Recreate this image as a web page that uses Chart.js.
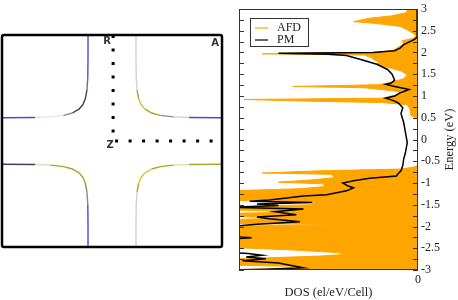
<!DOCTYPE html>
<html>
<head>
<meta charset="utf-8">
<script src="https://cdn.jsdelivr.net/npm/chart.js@4"></script>
<style>
  body { margin: 0; background: #fff; }
  #fermi { position: absolute; left: 0; top: 0; }
  #dos { position: absolute; left: 230px; top: 0; }
</style>
</head>
<body>
<canvas id="fermi" width="230" height="300"></canvas>
<canvas id="dos" width="228" height="300"></canvas>
<script>
// left panel: Fermi surface cut (k-space, 0..1 both ways)
const topLeftCurve = [[0, 0.61], [0.15, 0.611], [0.22, 0.614], [0.28, 0.621], [0.32, 0.632], [0.35, 0.65], [0.368, 0.672], [0.379, 0.70], [0.386, 0.74], [0.39, 0.80], [0.391, 0.9], [0.391, 1]]
const topRightCurve = [[1, 0.61], [0.85, 0.611], [0.78, 0.614], [0.72, 0.621], [0.68, 0.632], [0.65, 0.65], [0.632, 0.672], [0.621, 0.70], [0.614, 0.74], [0.61, 0.80], [0.609, 0.9], [0.609, 1]]
const bottomLeftCurve = [[0, 0.39], [0.15, 0.389], [0.22, 0.386], [0.28, 0.379], [0.32, 0.368], [0.35, 0.35], [0.368, 0.328], [0.379, 0.30], [0.386, 0.26], [0.39, 0.20], [0.391, 0.1], [0.391, 0]]
const bottomRightCurve = [[1, 0.39], [0.85, 0.389], [0.78, 0.386], [0.72, 0.379], [0.68, 0.368], [0.65, 0.35], [0.632, 0.328], [0.621, 0.30], [0.614, 0.26], [0.61, 0.20], [0.609, 0.1], [0.609, 0]]
const kPath = [[0.505, 1], [0.505, 0.5], [0.978, 0.5]]
const kLabels = ['R', 'Z', 'A']

const blue = '#4b4bd6', pale = '#e4e4dc', gray = '#8c8c8c', slate = '#3e3e5e'
const olive = '#a6a62a', yellow = '#c9c93a', paleOlive = '#dedeb0', light = '#d2d2d2'
const topLeftColors = [blue, pale, pale, gray, slate, slate, slate, slate, '#6a6a9a', blue, blue]
const topRightColors = [blue, light, gray, olive, olive, yellow, yellow, olive, light, light, light]
const bottomLeftColors = [slate, paleOlive, olive, olive, olive, olive, olive, '#8a8a70', gray, blue, blue]
const bottomRightColors = [olive, paleOlive, olive, olive, yellow, yellow, yellow, olive, light, light, light]

// right panel: density of states
const afdEnergy = [3.00, 2.92, 2.84, 2.79, 2.71, 2.66, 2.60, 2.52, 2.45, 2.38, 2.32, 2.27, 2.20, 2.12, 2.05, 2.00, 1.97, 1.94, 1.88, 1.84, 1.78, 1.73, 1.65, 1.57, 1.48, 1.40, 1.32, 1.26, 1.22, 1.19, 1.12, 1.06, 1.00, 0.95, 0.92, 0.88, 0.85, 0.80, 0.70, 0.55, 0.48, 0.30, -0.60, -0.64, -0.68, -0.72, -0.77, -0.80, -0.88, -0.93, -0.98, -1.02, -1.08, -1.13, -1.18, -1.40, -1.43, -1.50, -1.55, -1.62, -1.66, -1.70, -1.77, -1.80, -1.84, -1.93, -1.96, -1.99, -2.48, -2.54, -2.60, -2.64, -2.68, -2.75, -2.89, -2.93, -2.97, -3.00]
const afdDos = [0.6, 0.6, 1.5, 2.7, 3.6, 2.2, 1.0, 0.6, 0.3, 0.1, 0.3, 0.9, 0.8, 1.1, 1.4, 2.5, 8.7, 3.0, 2.6, 2.5, 2.2, 2.3, 1.6, 0.9, 0.6, 0.8, 1.4, 2.2, 7.0, 3.0, 1.4, 0.7, 1.5, 2.0, 9.7, 6.0, 2.0, 0.6, 0.45, 0.4, 0.05, 0, 0, 0.3, 1.0, 5.5, 8.7, 4.8, 4.7, 6.0, 7.8, 5.3, 5.2, 6.5, 10.5, 10.5, 5.7, 6.0, 10.5, 10.5, 6.2, 10.5, 10.5, 6.8, 10.5, 10.5, 3.7, 10.5, 10.5, 7.0, 4.5, 4.0, 5.5, 10.5, 10.5, 5.0, 8.0, 10.5]
const pmEnergy = [3.00, 2.35, 2.30, 2.25, 2.18, 2.10, 2.04, 2.00, 1.98, 1.96, 1.93, 1.84, 1.73, 1.61, 1.50, 1.36, 1.30, 1.27, 1.22, 1.15, 1.07, 1.00, 0.95, 0.90, 0.84, 0.73, 0.60, 0.39, 0.16, -0.07, -0.30, -0.45, -0.60, -0.72, -0.78, -0.84, -0.89, -0.95, -1.00, -1.07, -1.11, -1.18, -1.27, -1.30, -1.39, -1.42, -1.45, -1.48, -1.52, -1.56, -1.60, -1.66, -1.73, -1.78, -1.82, -1.89, -1.95, -2.00, -2.22, -2.26, -2.30, -2.58, -2.62, -2.66, -2.70, -2.74, -2.79, -2.84, -2.90, -2.95, -2.98, -3.00]
const pmDos = [0.05, 0.05, 0.2, 0.45, 0.8, 1.0, 1.3, 2.5, 7.8, 5.0, 4.0, 3.2, 2.3, 1.7, 1.45, 1.3, 1.5, 1.8, 1.3, 0.5, 1.0, 1.3, 1.8, 1.4, 1.1, 0.85, 0.95, 0.8, 0.7, 0.6, 0.7, 0.8, 0.85, 0.95, 1.1, 1.2, 2.7, 3.6, 4.2, 3.9, 3.6, 4.0, 5.1, 6.4, 8.3, 9.4, 5.9, 9.0, 7.8, 10.5, 6.4, 8.0, 6.8, 9.0, 8.3, 6.6, 9.0, 10.5, 11, 9.3, 11, 11, 9.5, 8.7, 9.6, 8.5, 9.8, 7.8, 7.0, 6.4, 8.5, 11]
const energyTicks = [-3, -2.5, -2, -1.5, -1, -0.5, 0, 0.5, 1, 1.5, 2, 2.5, 3]

const serif = 'Liberation Serif'
const toPoints = arr => arr.map(([x, y]) => ({ x, y }))
const zip = (energy, dos) => energy.map((y, i) => ({ x: dos[i], y }))

const curve = (pts, colors) => ({
  data: toPoints(pts),
  showLine: true,
  pointRadius: 0,
  borderWidth: 1.4,
  borderColor: colors[0],
  segment: { borderColor: c => colors[c.p0DataIndex] }
})

const fermiDecor = {
  id: 'fermiDecor',
  afterDraw(chart) {
    const { ctx, chartArea: a, scales: { x, y } } = chart
    ctx.save()
    ctx.strokeStyle = '#000'
    ctx.lineWidth = 2.5
    ctx.beginPath()
    ctx.roundRect(a.left, a.top, a.right - a.left, a.bottom - a.top, 2)
    ctx.stroke()
    ctx.fillStyle = '#333'
    ctx.font = 'bold 10px "DejaVu Sans"'
    ctx.textAlign = 'center'
    ctx.textBaseline = 'middle'
    const offsets = [[-6, 6], [-3, 4], [0, 0]]
    const spots = [kPath[0], kPath[1], [1, 1]]
    spots.forEach((p, i) => {
      let px = x.getPixelForValue(p[0]) + offsets[i][0]
      let py = y.getPixelForValue(p[1]) + offsets[i][1]
      if (i === 2) { px -= 7; py += 8 }
      ctx.fillText(kLabels[i], px, py)
    })
    ctx.restore()
  }
}

new Chart(document.getElementById('fermi'), {
  type: 'scatter',
  data: {
    datasets: [
      curve(topLeftCurve, topLeftColors),
      curve(topRightCurve, topRightColors),
      curve(bottomLeftCurve, bottomLeftColors),
      curve(bottomRightCurve, bottomRightColors),
      {
        data: toPoints(kPath),
        showLine: true,
        pointRadius: 0,
        borderColor: '#000',
        borderWidth: 3,
        borderDash: [3, 10.5],
        borderCapStyle: 'butt'
      }
    ]
  },
  options: {
    responsive: false,
    animation: false,
    layout: { padding: { left: 2, top: 35, right: 8, bottom: 53 } },
    plugins: { legend: { display: false }, tooltip: { enabled: false } },
    scales: {
      x: { type: 'linear', min: 0, max: 1, display: false },
      y: { type: 'linear', min: 0, max: 1, display: false }
    }
  },
  plugins: [fermiDecor]
})

const dosDecor = {
  id: 'dosDecor',
  afterDraw(chart) {
    const { ctx, chartArea: a, scales: { y } } = chart
    ctx.save()
    ctx.strokeStyle = '#333'
    ctx.lineWidth = 1
    ctx.strokeRect(a.left + 0.5, a.top + 0.5, a.right - a.left - 1, a.bottom - a.top - 1)
    ctx.beginPath()
    y.ticks.forEach(t => {
      const py = Math.round(y.getPixelForValue(t.value)) + 0.5
      ctx.moveTo(a.left, py); ctx.lineTo(a.left + 5, py)
      ctx.moveTo(a.right - 5, py); ctx.lineTo(a.right, py)
    })
    ctx.stroke()

    // y title, reading bottom to top
    ctx.fillStyle = '#222'
    ctx.font = '12.5px "' + serif + '"'
    ctx.textAlign = 'center'
    ctx.textBaseline = 'middle'
    ctx.translate(a.right + 32, (a.top + a.bottom) / 2)
    ctx.rotate(-Math.PI / 2)
    ctx.fillText('Energy (eV)', 0, 0)
    ctx.restore()

    // legend box
    ctx.save()
    const bx = a.left + 11, by = a.top + 9
    ctx.fillStyle = '#fff'
    ctx.fillRect(bx, by, 58, 28)
    ctx.strokeStyle = '#333'
    ctx.strokeRect(bx + 0.5, by + 0.5, 58, 28)
    ctx.font = '12px "' + serif + '"'
    ctx.textBaseline = 'middle'
    ctx.textAlign = 'left'
    chart.data.datasets.forEach((ds, i) => {
      const ly = by + 10 + i * 12
      ctx.strokeStyle = ds.borderColor
      ctx.lineWidth = 1.2
      ctx.beginPath()
      ctx.moveTo(bx + 5, ly); ctx.lineTo(bx + 18, ly)
      ctx.stroke()
      ctx.fillStyle = '#222'
      ctx.fillText(ds.label, bx + 27, ly)
    })
    ctx.restore()
  }
}

new Chart(document.getElementById('dos'), {
  type: 'line',
  data: {
    datasets: [
      {
        label: 'AFD',
        data: zip(afdEnergy, afdDos),
        borderColor: '#ffa500',
        backgroundColor: '#ffa500',
        borderWidth: 1,
        fill: 'origin',
        pointRadius: 0,
        tension: 0,
        order: 2
      },
      {
        label: 'PM',
        data: zip(pmEnergy, pmDos),
        borderColor: '#000',
        borderWidth: 1.5,
        fill: false,
        pointRadius: 0,
        tension: 0,
        order: 1
      }
    ]
  },
  options: {
    indexAxis: 'y',
    responsive: false,
    animation: false,
    layout: { padding: { left: 9, top: 6, right: 0, bottom: 0 } },
    plugins: { legend: { display: false }, tooltip: { enabled: false } },
    scales: {
      x: {
        type: 'linear',
        reverse: true,
        min: 0,
        max: 10,
        grid: { display: false, drawTicks: false },
        border: { display: false },
        ticks: {
          stepSize: 10,
          padding: 3,
          color: '#222',
          font: { family: serif, size: 12 },
          callback: v => (v === 0 ? '0' : '')
        },
        title: {
          display: true,
          text: 'DOS (el/eV/Cell)',
          color: '#222',
          font: { family: serif, size: 12.5 },
          padding: { top: 2, bottom: 0 }
        },
        afterFit: s => { s.height = 30 }
      },
      y: {
        type: 'linear',
        position: 'right',
        min: -3,
        max: 3,
        grid: { display: false, drawTicks: false },
        border: { display: false },
        ticks: {
          stepSize: 0.25,
          autoSkip: false,
          padding: 3,
          color: '#222',
          font: { family: serif, size: 12, lineHeight: 1 },
          callback: v => (energyTicks.includes(v) ? String(v) : '')
        },
        afterFit: s => { s.width = 40 }
      }
    }
  },
  plugins: [dosDecor]
})
</script>
</body>
</html>
